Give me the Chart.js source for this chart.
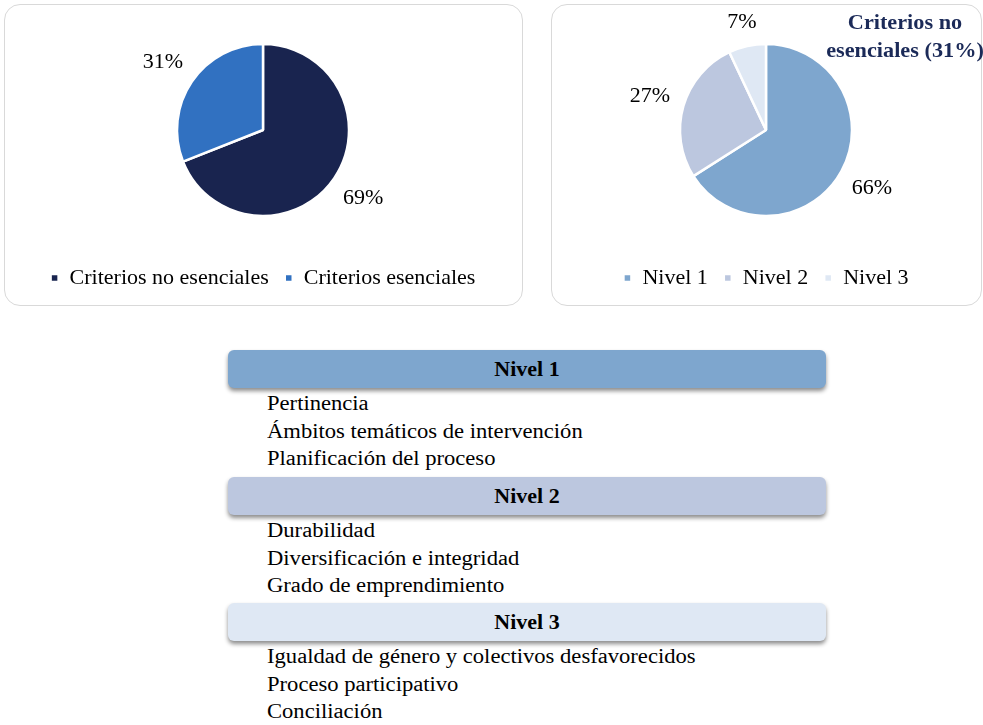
<!DOCTYPE html>
<html>
<head>
<meta charset="utf-8">
<script src="https://cdn.jsdelivr.net/npm/chart.js@4"></script>
<style>
  body { margin: 0; background: #fff; font-family: "Liberation Serif", "DejaVu Serif", serif; }
  .panel { position: absolute; top: 4px; height: 302px; border: 1.5px solid #d9d9d9; border-radius: 16px; box-sizing: border-box; overflow: hidden; }
  .panel canvas { position: absolute; left: 0; top: 0; }
  #p1 { left: 4px; width: 519px; }
  #p2 { left: 551px; width: 431px; }
  #subtitle { position: absolute; left: 820px; width: 170px; top: 8px; text-align: center; font-weight: bold; font-size: 21px; line-height: 28px; color: #1b2a58; transform: scaleX(1.06); }
  .bar { position: absolute; left: 228px; width: 598px; height: 38px; border-radius: 6px; box-shadow: 0 3px 4px rgba(0,0,0,0.45); }
  .bar span { display: block; text-align: center; font-weight: bold; font-size: 20px; line-height: 38px; color: #000; transform: scaleX(1.1); }
  .items { position: absolute; left: 267px; font-size: 20px; line-height: 27.5px; color: #000; transform: scaleX(1.13); transform-origin: left top; white-space: nowrap; }
</style>
</head>
<body>
<div class="panel" id="p1"><canvas id="pie1"></canvas></div>
<div class="panel" id="p2"><canvas id="pie2"></canvas></div>
<div id="subtitle">Criterios no<br>esenciales (31%)</div>
<div id="levels"></div>
<script>
// datos del gráfico
const criteriaLabels = ['Criterios no esenciales', 'Criterios esenciales'];
const criteriaValues = [69, 31];
const criteriaColors = ['#19244f', '#3171c1'];

const levelLabels = ['Nivel 1', 'Nivel 2', 'Nivel 3'];
const levelValues = [66, 27, 7];
const levelColors = ['#7ea6ce', '#bcc7df', '#dfe8f4'];

const levelItems = [
    ['Pertinencia', 'Ámbitos temáticos de intervención', 'Planificación del proceso'],
    ['Durabilidad', 'Diversificación e integridad', 'Grado de emprendimiento'],
    ['Igualdad de género y colectivos desfavorecidos', 'Proceso participativo', 'Conciliación']
];

const serif = '"Liberation Serif", "DejaVu Serif", serif';

// etiquetas de porcentaje fuera de cada porción
const outsideLabels = {
    id: 'outsideLabels',
    afterDatasetsDraw(chart) {
        const ctx = chart.ctx;
        const meta = chart.getDatasetMeta(0);
        const values = chart.data.datasets[0].data;
        ctx.save();
        ctx.font = '22px ' + serif;
        ctx.fillStyle = '#000';
        ctx.textAlign = 'center';
        ctx.textBaseline = 'middle';
        meta.data.forEach((arc, i) => {
            const mid = (arc.startAngle + arc.endAngle) / 2;
            const r = arc.outerRadius + (values[i] < 10 ? 24 : 35);
            ctx.fillText(values[i] + '%', arc.x + Math.cos(mid) * r, arc.y + Math.sin(mid) * r);
        });
        ctx.restore();
    }
};

function makePie(id, w, h, labels, values, colors) {
    const canvas = document.getElementById(id);
    canvas.width = w;
    canvas.height = h;
    new Chart(canvas, {
        type: 'pie',
        data: {
            labels: labels,
            datasets: [{
                data: values,
                backgroundColor: colors,
                borderColor: '#fff',
                borderWidth: 2.5,
                radius: 86
            }]
        },
        options: {
            responsive: false,
            animation: false,
            layout: { padding: { top: 4, bottom: 5 } },
            plugins: {
                tooltip: { enabled: false },
                legend: {
                    position: 'bottom',
                    labels: {
                        font: { family: serif, size: 22 },
                        color: '#000',
                        boxWidth: 8,
                        boxHeight: 8,
                        padding: 16
                    }
                }
            }
        },
        plugins: [outsideLabels]
    });
}

makePie('pie1', 516, 299, criteriaLabels, criteriaValues, criteriaColors);
makePie('pie2', 428, 299, levelLabels, levelValues, levelColors);

// esquema de niveles
const barTops = [350, 477, 603];
const levelsDiv = document.getElementById('levels');
levelLabels.forEach((name, i) => {
    const bar = document.createElement('div');
    bar.className = 'bar';
    bar.style.top = barTops[i] + 'px';
    bar.style.background = levelColors[i];
    bar.innerHTML = '<span>' + name + '</span>';
    levelsDiv.appendChild(bar);
    const items = document.createElement('div');
    items.className = 'items';
    items.style.top = (barTops[i] + 40) + 'px';
    items.innerHTML = levelItems[i].join('<br>');
    levelsDiv.appendChild(items);
});
</script>
</body>
</html>
